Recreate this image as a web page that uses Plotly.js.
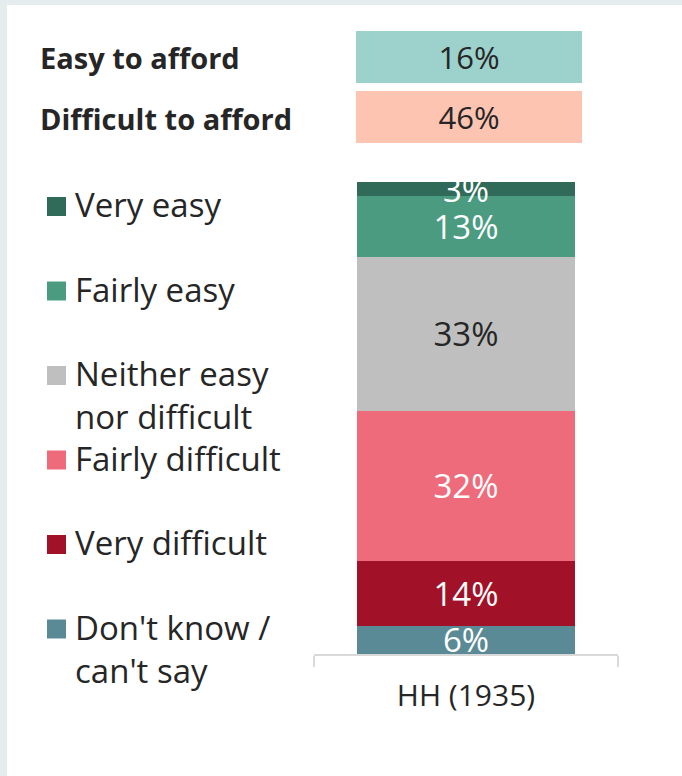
<!DOCTYPE html>
<html>
<head>
<meta charset="utf-8">
<script src="https://cdn.plot.ly/plotly-3.0.1.min.js"></script>
<style>
html,body{margin:0;padding:0;background:#fff;}
#chart{width:682px;height:776px;}
</style>
</head>
<body>
<div id="chart"></div>
<script>
// ---- data ----
const group = ['HH (1935)'];
const categories = ['Very easy', 'Fairly easy', 'Neither easy nor difficult', 'Fairly difficult', 'Very difficult', "Don't know / can't say"];
const legendLabels = ['Very easy', 'Fairly easy', 'Neither easy<br>nor difficult', 'Fairly difficult', 'Very difficult', "Don't know /<br>can't say"];
const values = [3, 13, 33, 32, 14, 6];
const colors = ['#2f6b58', '#4b9b81', '#bfbfbf', '#ee6b7c', '#a11127', '#5a8a96'];
const labelColors = ['#ffffff', '#ffffff', '#262626', '#ffffff', '#ffffff', '#ffffff'];
const summaryLabels = ['Easy to afford', 'Difficult to afford'];
const summaryValues = [16, 46];
const summaryColors = ['#9dd1cc', '#fec4b2'];

// ---- layout helpers ----
const W = 682, H = 776;
const px = x => x / W;
const py = y => 1 - y / H;
const FONT = 'Open Sans, sans-serif';
const TXT = '#262626';

// traces: stacked from bottom (last category) to top (first category)
const traces = [];
for (let i = categories.length - 1; i >= 0; i--) {
  traces.push({
    type: 'bar',
    name: categories[i],
    x: group,
    y: [values[i]],
    width: 0.714,
    marker: {color: colors[i], line: {width: 0}},
    texttemplate: '%{y}%',
    textposition: 'inside',
    insidetextanchor: 'middle',
    constraintext: 'none',
    textangle: 0,
    cliponaxis: true,
    textfont: {family: FONT, size: 33, color: labelColors[i]},
    hoverinfo: 'name+y',
    showlegend: false
  });
}

const shapes = [
  {type: 'rect', xref: 'paper', yref: 'paper', x0: 0, x1: px(7), y0: 0, y1: 1, fillcolor: '#e4ecee', line: {width: 0}, layer: 'below'},
  {type: 'rect', xref: 'paper', yref: 'paper', x0: 0, x1: 1, y0: py(5), y1: 1, fillcolor: '#e4ecee', line: {width: 0}, layer: 'below'}
];
const annotations = [];

// summary rows
const sumCenters = [57, 117];
summaryLabels.forEach((lab, i) => {
  annotations.push({
    xref: 'paper', yref: 'paper', x: px(38), y: py(sumCenters[i] + 1), xanchor: 'left', yanchor: 'middle',
    text: '<b>' + lab + '</b>', showarrow: false,
    font: {family: FONT, size: 29, color: TXT}
  });
  annotations.push({
    xref: 'paper', yref: 'paper', x: px(469), y: py(sumCenters[i]), xanchor: 'center', yanchor: 'middle',
    text: summaryValues[i] + '%', showarrow: false, bgcolor: summaryColors[i],
    width: 226, height: 52, borderpad: 0, borderwidth: 0, align: 'center', valign: 'middle',
    font: {family: FONT, size: 31, color: TXT}
  });
});

// legend (manual, evenly spaced like the original)
const legTop = 206.5, legStep = 84.5, legFont = 33;
categories.forEach((c, i) => {
  const cy = legTop + i * legStep;
  shapes.push({type: 'rect', xref: 'paper', yref: 'paper', x0: px(47), x1: px(66), y0: py(cy + 9.5), y1: py(cy - 9.5),
    fillcolor: colors[i], line: {width: 0}});
  const halfLine = legFont * 1.3 / 2;
  annotations.push({
    xref: 'paper', yref: 'paper', x: px(73), y: py(cy - halfLine - 5), xanchor: 'left', yanchor: 'top',
    align: 'left', text: legendLabels[i], showarrow: false,
    font: {family: FONT, size: legFont, color: TXT}
  });
});

const layout = {
  width: W, height: H,
  margin: {l: 0, r: 0, t: 0, b: 0, pad: 0},
  paper_bgcolor: '#ffffff', plot_bgcolor: '#ffffff',
  barmode: 'stack', showlegend: false,
  xaxis: {
    domain: [px(314), px(618)], type: 'category', range: [-0.5, 0.5],
    tickson: 'boundaries', ticks: 'outside', ticklen: 11, tickwidth: 2, tickcolor: '#d9d9d9',
    showline: true, linecolor: '#d9d9d9', linewidth: 2, showgrid: false, zeroline: false,
    ticklabelstandoff: 14,
    tickfont: {family: FONT, size: 30, color: TXT}, fixedrange: true
  },
  yaxis: {
    domain: [py(654), py(182)], range: [0, 101], visible: false, fixedrange: true
  },
  shapes: shapes,
  annotations: annotations
};

Plotly.newPlot('chart', traces, layout, {displayModeBar: false, staticPlot: true});
</script>
</body>
</html>
